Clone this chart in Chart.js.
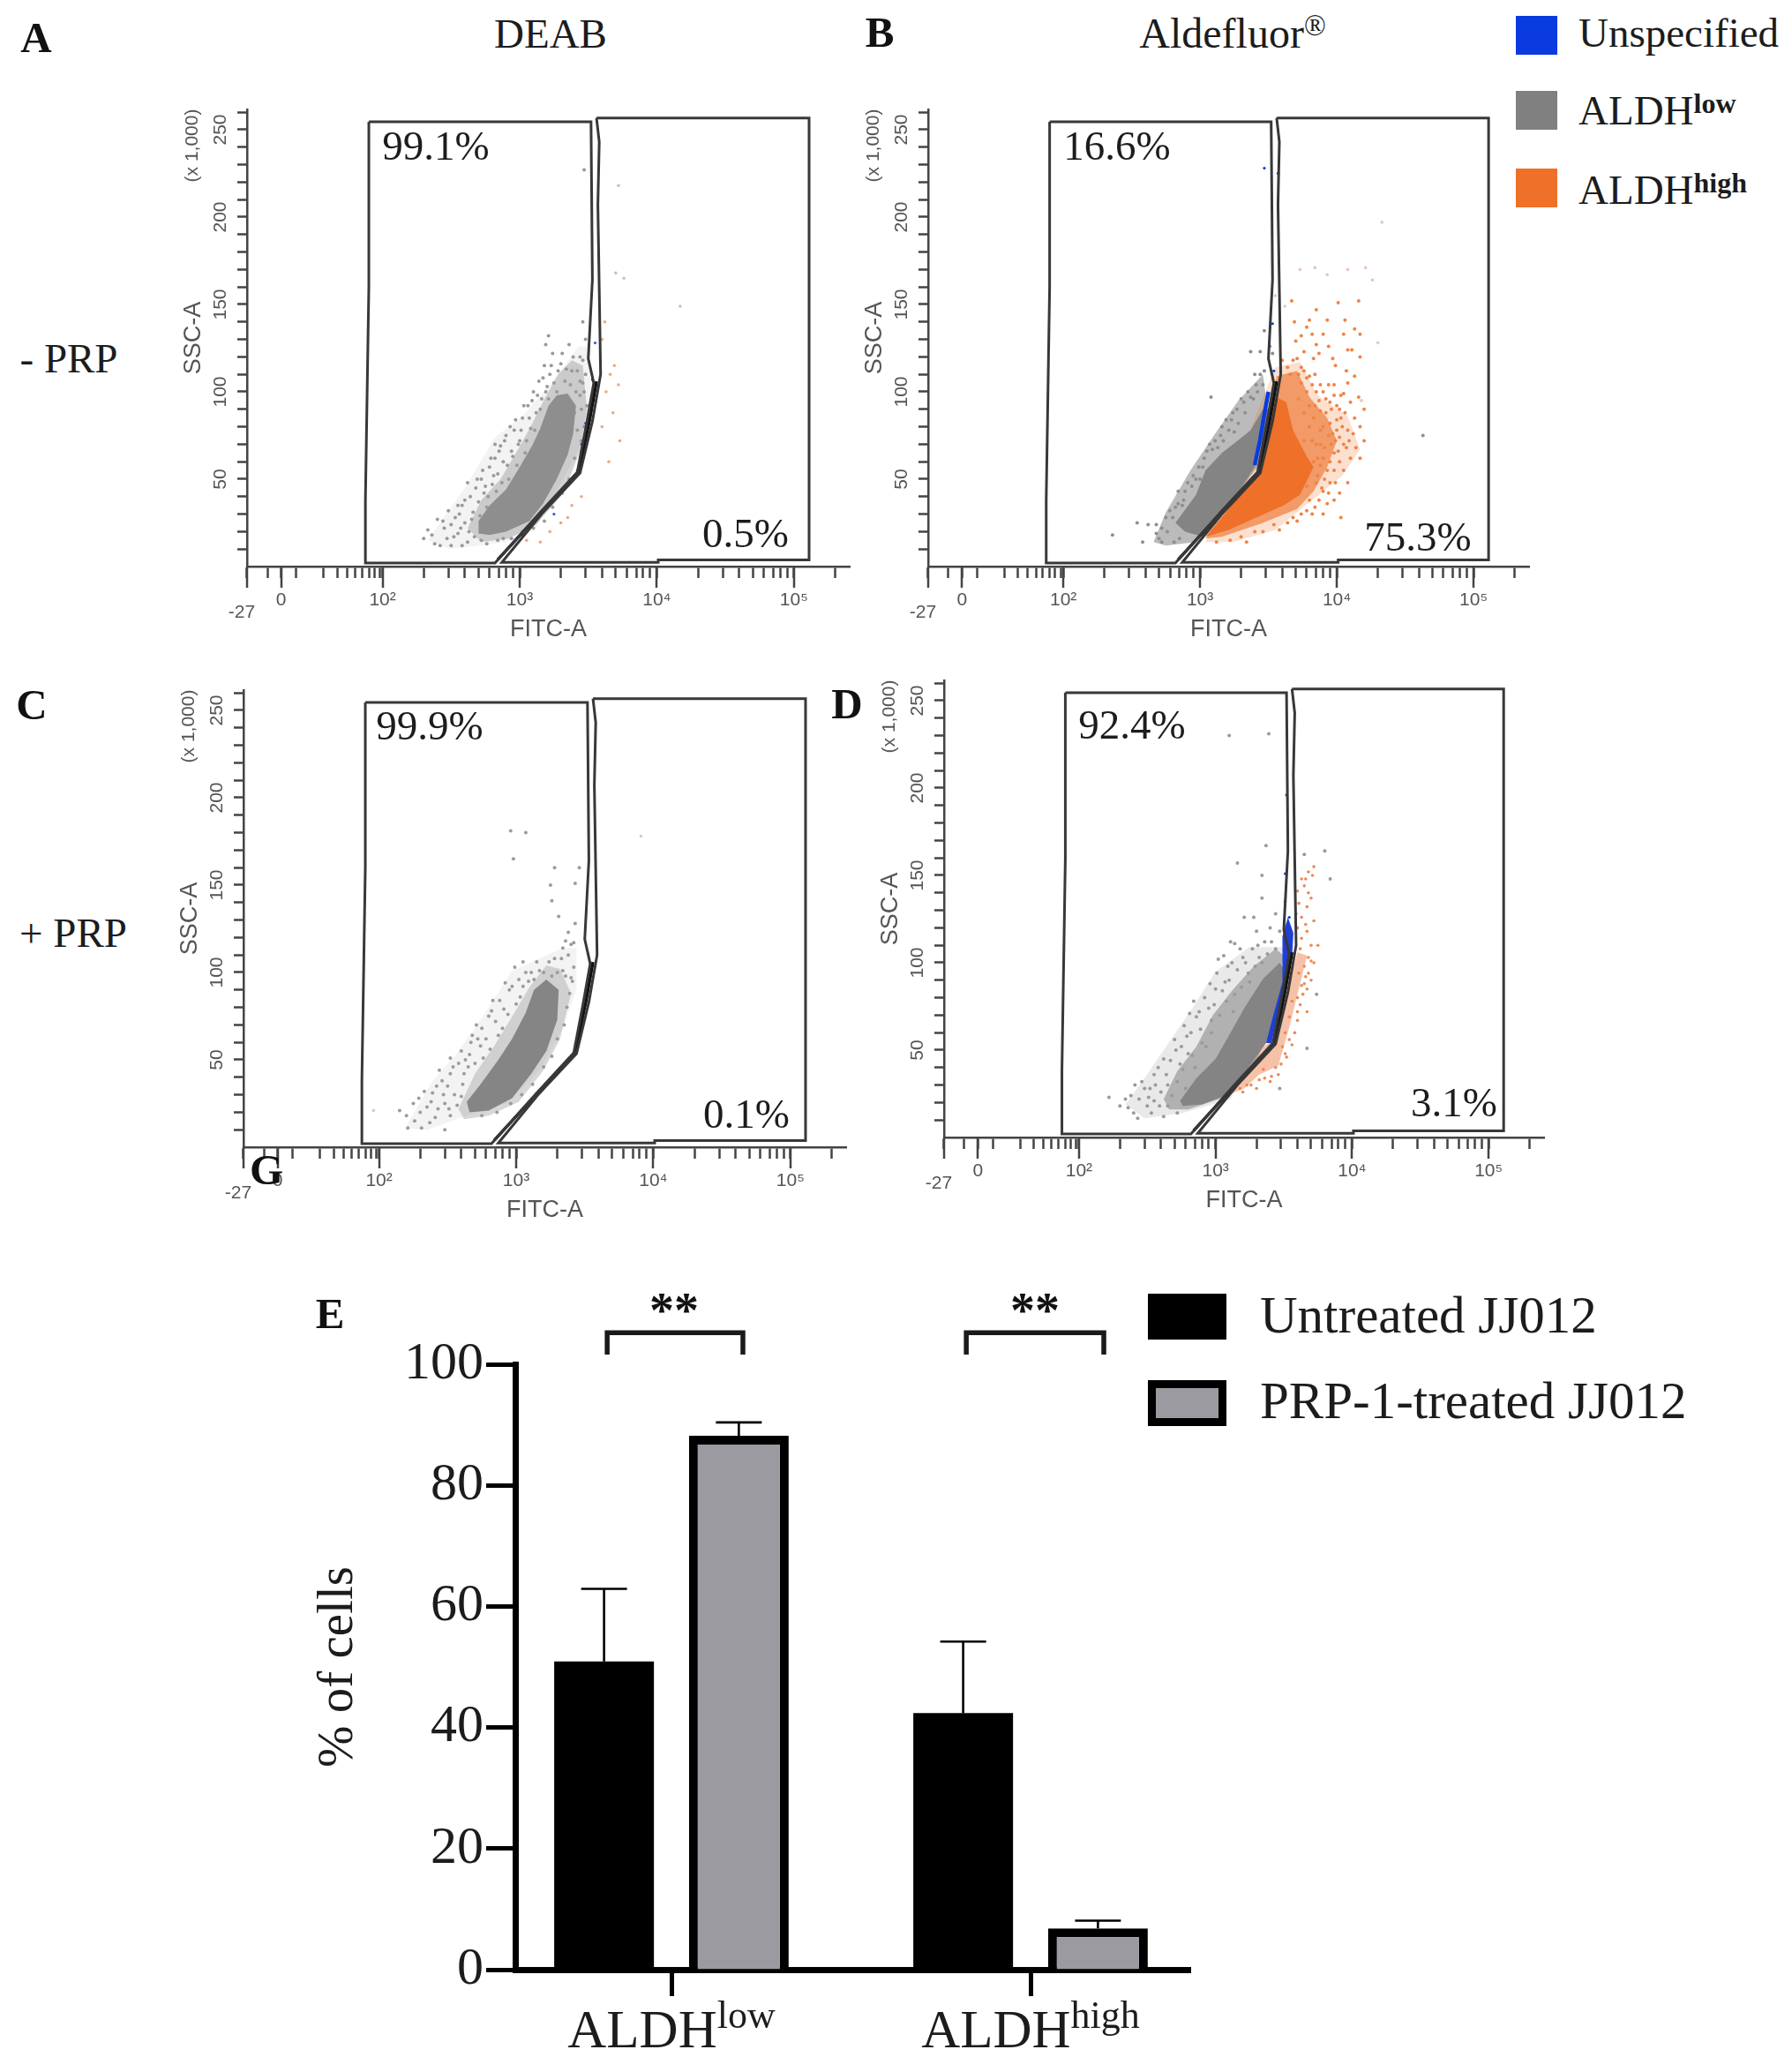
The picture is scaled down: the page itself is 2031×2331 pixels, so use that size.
<!DOCTYPE html>
<html><head><meta charset="utf-8">
<style>
html,body{margin:0;padding:0;background:#fff}
#page{position:relative;width:2031px;height:2331px;overflow:hidden;background:#fff}
canvas{position:absolute;display:block}
.t{position:absolute;white-space:nowrap;transform:translate(-50%,-50%);font-family:"Liberation Serif",serif;color:#1c1c1c;line-height:1;z-index:5}
.t.b{font-weight:700;color:#111}
.t sup{font-size:.68em;vertical-align:baseline;position:relative;top:-.42em;line-height:0}
.box{position:absolute;z-index:5;box-sizing:border-box}
</style>
<script src="https://cdn.jsdelivr.net/npm/chart.js@4"></script>
</head><body><div id="page"></div>
<script>
/* ---------- shared flow-cytometry axes: FITC in decade position (2 = 10^2), SSC in thousands ---------- */
const fitcTicks=[1.01,1.16,1.26,1.37,1.57,1.67,1.74,1.80,1.85,1.90,1.94,1.98,2,2.30,2.48,2.60,2.70,2.78,2.85,2.90,2.95,3,3.30,3.48,3.60,3.70,3.78,3.85,3.90,3.95,4,4.30,4.48,4.60,4.70,4.78,4.85,4.90,4.95,5,5.30];
const fitcLongTicks=[1.01,1.26,2,3,4,5];
const fitcLabels={1.26:'0',2:'10²',3:'10³',4:'10⁴',5:'10⁵'};
const sscTicks=[10,20,30,40,50,60,70,80,90,100,110,120,130,140,150,160,170,180,190,200,210,220,230,240,250,260];
const sscLabels=[50,100,150,200,250];

/* gates shared by the four plots */
const gateLow=[[1.90,254.5],[3.52,254.5],[3.53,164],[3.50,119],[3.54,105],[3.49,83],[3.42,54],[3.15,31],[2.82,2],[1.875,2],[1.875,38],[1.90,160],[1.90,254.5]];
const gateHigh=[[3.56,256.7],[5.11,256.7],[5.11,3.8],[4.01,3.8],[4.01,2.4],[2.87,2.4],[3.16,30],[3.44,53.5],[3.53,83],[3.59,110],[3.57,207],[3.58,243],[3.56,256.7]];
const gateSlant=[[2.84,4],[3.15,30.5],[3.43,54],[3.51,84],[3.56,106]];

/* panel A */
const aCore=[[2.70,26],[2.78,35],[2.90,44],[3.00,57],[3.09,69],[3.15,79],[3.21,92],[3.27,98],[3.35,99],[3.41,92],[3.39,76],[3.35,64],[3.27,50],[3.17,36],[3.07,26],[2.90,20],[2.78,18],[2.70,19]];
const aMid=[[2.62,22],[2.72,38],[2.86,50],[2.98,66],[3.08,80],[3.18,96],[3.28,110],[3.38,118],[3.46,115],[3.49,90],[3.44,66],[3.32,42],[3.12,24],[2.92,16],[2.72,14]];
const aHalo=[[2.33,15],[2.60,45],[2.82,74],[3.02,86],[3.23,105],[3.43,126],[3.50,126],[3.52,98],[3.43,67],[3.27,43],[3.11,21],[2.90,14],[2.49,10]];
const aGray=[[2.38,13],[2.33,21],[2.40,27],[2.45,22],[2.47,16],[2.50,12],[2.53,28],[2.55,19],[2.58,35],[2.60,25],[2.62,14],[2.64,40],[2.66,31],[2.68,45],[2.70,37],[2.72,50],[2.74,42],[2.76,34],[2.78,57],[2.80,47],[2.82,62],[2.84,53],[2.86,69],[2.88,60],[2.90,75],[2.92,50],[2.94,66],[2.96,78],[2.98,58],[3.00,72],[3.02,85],[3.04,65],[3.06,92],[3.08,79],[3.10,100],[3.12,88],[3.14,106],[3.16,96],[3.18,115],[3.20,103],[3.22,110],[3.24,122],[3.27,100],[3.30,116],[3.33,106],[3.36,127],[3.38,112],[3.41,100],[3.44,120],[3.46,105],[3.48,130],[3.45,90],[3.47,227],[3.19,127],[3.21,132],[3.46,140],[3.44,98],[3.40,88],[3.42,78],[2.55,35],[2.62,48],[2.48,32],[2.58,12],[2.72,15],[2.88,16],[3.02,18],[2.82,70],[3.28,92],
 [2.30,16],[2.36,18],[2.42,12],[2.44,26],[2.50,24],[2.52,17],[2.56,30],[2.57,22],[2.60,38],[2.63,20],[2.65,27],[2.67,17],[2.69,50],[2.71,29],[2.73,55],[2.75,46],[2.77,40],[2.79,62],[2.81,52],[2.83,43],[2.85,66],[2.87,48],[2.89,72],[2.91,58],[2.93,80],[2.95,63],[2.97,84],[2.99,70],[3.01,78],[3.03,92],[3.05,72],[3.07,85],[3.09,95],[3.11,78],[3.13,98],[3.15,90],[3.17,108],[3.19,100],[3.21,96],[3.23,115],[3.25,105],[3.28,112],[3.31,122],[3.34,113],[3.37,104],[3.39,120],[3.42,112],[3.44,106],[3.46,118],[3.48,110],[3.47,100],[3.49,92],[3.47,80],[3.45,72],[3.40,62],[3.36,50],[3.31,42],[3.24,34],[3.18,26],[3.10,22],[3.02,20],[2.94,16],[2.84,15],[2.76,13]];
const aOrange=[[3.72,104],[3.66,110],[3.69,115],[3.60,130],[3.62,140],[3.63,100],[3.60,80],[3.68,88],[3.73,72],[3.65,60],[3.45,40],[3.38,35],[3.30,25],[3.22,20],[3.15,14],[3.05,15],[3.35,28]];
const aPale=[[3.72,218],[4.17,149],[3.76,165],[3.70,168]];
const aBlue=[[3.55,128],[3.53,107],[3.54,95],[3.48,82],[3.45,70],[3.42,55],[3.38,50],[3.25,30]];

/* panel B */
const bGrayCore=[[2.82,25],[2.97,41],[3.04,55],[3.16,65],[3.29,73],[3.37,78],[3.46,90],[3.51,90],[3.44,68],[3.40,57],[3.26,40],[3.14,28],[3.02,17],[2.89,20]];
const bGrayHalo=[[2.66,14],[2.75,31],[2.93,55],[3.11,76],[3.28,95],[3.46,110],[3.50,86],[3.42,57],[3.11,24],[2.97,14],[2.75,12]];
const bOrangeCore=[[3.04,17],[3.21,33],[3.42,55],[3.48,73],[3.56,97],[3.63,94],[3.68,78],[3.78,63],[3.83,57],[3.73,41],[3.61,35],[3.41,28],[3.21,21]];
const bOrangeMid=[[3.56,109],[3.71,112],[3.80,97],[3.93,85],[4.00,72],[3.93,57],[3.83,43],[3.71,33],[3.46,25],[3.16,17],[3.04,16],[3.42,55],[3.50,80]];
const bOrangeHalo=[[3.04,14],[3.55,114],[3.73,117],[3.86,98],[4.08,86],[4.17,67],[4.04,52],[3.82,38],[3.55,21],[3.24,14]];
const bOrange=[[3.67,152],[3.85,147],[4.01,151],[4.16,152],[3.80,141],[3.93,141],[4.06,141],[4.13,136],[4.17,133],[4.05,133],[3.78,137],[3.69,140],[3.70,129],[3.85,127],[4.08,124],[4.17,120],[3.76,123],[3.87,122],[3.97,119],[3.71,119],[3.83,119],[3.99,115],[4.13,109],[3.76,112],[3.66,110],[4.05,99],[4.16,97],[3.80,109],[3.98,104],[3.85,100],[4.08,105],[4.13,85],[4.03,85],[4.20,90],[3.95,94],[4.10,94],[4.17,80],[4.20,72],[4.17,62],[4.00,78],[4.08,78],[4.05,70],[3.95,82],[3.88,89],[3.98,65],[4.10,62],[4.05,55],[3.98,55],[4.08,48],[3.90,43],[3.98,38],[3.93,36],[3.90,30],[4.03,28],[3.82,30],[3.71,26],[3.58,21],[3.34,14],[3.46,20],[3.80,38],[3.85,48],[3.78,46],[3.80,92],[3.83,85],[3.87,95],[3.90,100],[3.92,88],[3.94,75],[3.96,70],[3.88,78],[3.85,70],[3.83,60],[3.90,62],[3.93,55],[3.86,52],[3.89,45],[3.95,60],[3.99,72],[4.02,90],[4.02,60],[3.78,100],[3.74,105],[3.72,96],[3.76,88],[4.00,92],
 [3.60,118],[3.64,114],[3.68,118],[3.72,110],[3.74,114],[3.78,108],[3.82,104],[3.84,110],[3.88,104],[3.92,96],[3.94,104],[3.96,90],[3.98,98],[4.00,84],[4.02,74],[4.04,80],[4.06,88],[4.07,68],[4.09,72],[4.12,76],[4.14,68],[4.01,66],[3.97,76],[3.91,68],[3.88,58],[3.91,50],[3.95,48],[3.99,48],[4.02,42],[3.94,42],[3.87,38],[3.84,34],[3.78,32],[3.74,30],[3.68,28],[3.64,25],[3.54,24],[3.40,20],[3.30,17],[3.22,15],[3.12,14],[3.88,70],[3.84,92],[3.80,80],[3.76,72],[3.90,80],[3.82,72],[3.86,62],[4.03,98],[4.07,112],[4.11,124],[3.94,126],[3.90,133],[3.82,133],[3.74,132]];
const bPale=[[3.73,170],[3.84,171],[4.08,170],[4.21,171],[3.93,167],[4.26,164],[4.33,197],[4.30,128],[3.55,155],[3.62,149],[4.18,95]];
const bGray=[[3.08,97],[3.37,123],[3.44,123],[3.47,135],[3.53,122],[2.54,25],[2.62,24],[2.36,18],[2.58,14],[2.68,19],[2.72,22],[2.70,16],[2.75,28],[2.82,34],[2.87,35],[2.81,14],[2.89,43],[2.84,43],[2.97,50],[3.02,57],[3.09,67],[3.15,75],[3.23,84],[3.16,80],[3.25,77],[3.27,90],[3.32,94],[3.41,104],[3.46,104],[3.37,97],[4.63,75],
 [2.68,24],[2.72,14],[2.76,20],[2.78,32],[2.80,28],[2.84,36],[2.85,16],[2.88,38],[2.91,48],[2.94,46],[2.95,52],[2.99,57],[3.00,50],[3.03,62],[3.05,66],[3.07,70],[3.11,72],[3.13,68],[3.17,72],[3.19,84],[3.21,78],[3.24,88],[3.28,82],[3.30,96],[3.33,88],[3.35,100],[3.39,96],[3.42,100],[3.44,110],[3.47,112],[3.40,110]];
const bBlueTrace=[[3.40,58],[3.44,73],[3.47,87],[3.50,100]];
const bBlue=[[3.53,139],[3.57,225],[3.51,126],[3.54,112],[3.47,228]];

/* panel C */
const cCore=[[2.64,26],[2.74,36],[2.87,50],[2.97,62],[3.07,77],[3.13,90],[3.22,96],[3.31,90],[3.30,73],[3.22,55],[3.11,42],[2.97,28],[2.80,21],[2.66,20]];
const cMid=[[2.58,22],[2.70,42],[2.84,58],[2.98,76],[3.10,92],[3.22,104],[3.32,102],[3.40,88],[3.32,62],[3.20,44],[3.02,26],[2.80,18],[2.62,16]];
const cHalo=[[2.19,11],[2.39,38],[2.56,53],[2.76,75],[2.97,101],[3.34,114],[3.44,114],[3.44,90],[3.34,68],[3.17,44],[2.93,25],[2.64,18],[2.35,10]];
const cGray=[[2.15,21],[2.21,11],[2.31,11],[2.48,10],[2.25,25],[2.29,28],[2.39,31],[2.35,23],[2.41,17],[2.52,18],[2.46,38],[2.52,42],[2.58,48],[2.62,42],[2.66,53],[2.72,62],[2.76,51],[2.80,75],[2.83,84],[2.87,64],[2.91,79],[2.95,90],[2.99,103],[3.05,106],[3.09,95],[3.03,86],[3.17,101],[3.34,114],[3.38,110],[3.42,103],[3.34,101],[3.28,108],[3.40,97],[3.42,117],[2.52,51],[2.60,55],[2.68,64],[2.44,44],[2.60,29],[2.48,25],[2.96,181],[3.07,180],[2.98,165],[3.28,160],[3.46,160],[3.25,150],[3.43,151],[3.26,141],[3.31,132],[3.43,128],[3.38,123],
 [2.20,18],[2.26,15],[2.30,20],[2.33,32],[2.37,14],[2.38,26],[2.42,35],[2.43,22],[2.47,30],[2.50,35],[2.51,22],[2.54,46],[2.55,30],[2.57,24],[2.61,36],[2.63,50],[2.65,46],[2.67,60],[2.70,48],[2.71,70],[2.74,58],[2.75,68],[2.78,62],[2.81,56],[2.82,78],[2.85,72],[2.88,84],[2.90,68],[2.92,94],[2.94,76],[2.97,92],[3.00,82],[3.02,96],[3.05,92],[3.07,100],[3.11,100],[3.13,96],[3.15,106],[3.20,100],[3.24,106],[3.26,98],[3.30,100],[3.33,108],[3.36,98],[3.39,88],[3.41,95],[3.37,80],[3.35,70],[3.30,62],[3.26,52],[3.20,46],[3.12,36],[3.04,30],[2.96,25],[2.86,20],[2.75,18],[3.40,116],[3.36,118]];
const cPale=[[3.91,178],[1.96,21]];

/* panel D */
const dCore=[[2.74,21],[2.86,34],[3.00,45],[3.11,60],[3.21,74],[3.35,91],[3.47,100],[3.51,95],[3.46,76],[3.37,54],[3.25,41],[3.11,25],[2.90,19],[2.76,18]];
const dMid=[[2.62,22],[2.72,38],[2.86,52],[2.98,70],[3.12,84],[3.28,98],[3.44,108],[3.50,104],[3.44,70],[3.30,44],[3.10,24],[2.80,16],[2.66,16]];
const dHalo=[[2.34,19],[2.48,34],[2.69,58],[2.83,74],[3.00,95],[3.25,109],[3.49,109],[3.49,80],[3.11,22],[2.76,14],[2.48,11]];
const dBlueCore=[[3.37,54],[3.42,69],[3.49,89],[3.49,115],[3.53,126],[3.57,117],[3.56,102],[3.51,85],[3.44,65],[3.41,54]];
const dOrangeHalo=[[3.11,25],[3.35,52],[3.46,58],[3.54,89],[3.60,106],[3.67,104],[3.61,85],[3.54,63],[3.46,41],[3.32,36],[3.21,28]];
const dGray=[[2.22,23],[2.34,22],[2.36,17],[2.43,11],[2.48,28],[2.55,36],[2.55,21],[2.62,12],[2.72,14],[2.62,45],[2.71,50],[2.79,58],[2.81,71],[2.86,69],[2.90,54],[2.76,39],[2.95,74],[3.00,85],[3.02,102],[3.09,98],[3.11,112],[3.14,111],[3.20,103],[3.32,103],[3.28,126],[3.21,126],[3.34,137],[3.16,157],[3.34,150],[3.37,167],[3.10,230],[3.39,231],[3.47,28],[3.14,82],[3.25,89],[3.07,89],[2.97,67],[2.83,47],[2.65,30],[2.51,23],[2.41,30],[3.65,162],[3.80,164],[3.84,148],[3.74,82],[3.67,51],
 [2.30,18],[2.38,24],[2.40,14],[2.44,22],[2.46,32],[2.50,18],[2.52,28],[2.53,14],[2.56,30],[2.58,40],[2.59,18],[2.60,26],[2.64,36],[2.65,18],[2.67,44],[2.68,24],[2.70,56],[2.72,32],[2.74,42],[2.75,52],[2.77,64],[2.78,28],[2.80,48],[2.82,60],[2.84,78],[2.85,40],[2.88,72],[2.89,62],[2.92,80],[2.93,52],[2.96,88],[2.97,60],[2.99,76],[3.01,94],[3.03,70],[3.05,84],[3.06,104],[3.08,78],[3.10,90],[3.12,100],[3.13,72],[3.16,96],[3.18,108],[3.19,86],[3.22,100],[3.24,94],[3.27,108],[3.29,98],[3.31,110],[3.34,100],[3.36,112],[3.38,105],[3.41,112],[3.44,108],[3.47,118],[3.30,118],[3.40,120],[3.44,128]];
const dOrange=[[3.72,155],[3.68,152],[3.63,148],[3.65,144],[3.60,141],[3.61,134],[3.70,137],[3.67,132],[3.63,126],[3.72,124],[3.67,118],[3.75,110],[3.63,114],[3.68,103],[3.70,101],[3.65,98],[3.63,87],[3.60,80],[3.67,85],[3.67,72],[3.60,67],[3.56,53],[3.51,48],[3.46,36],[3.41,35],[3.35,39],[3.32,33],[3.23,30],[3.18,28],[3.49,52],[3.61,94],[3.56,78],[3.54,69],[3.51,60],
 [3.20,26],[3.26,30],[3.30,28],[3.36,34],[3.40,32],[3.44,40],[3.48,42],[3.52,46],[3.54,56],[3.58,60],[3.60,72],[3.62,76],[3.64,82],[3.65,88],[3.66,92],[3.68,94],[3.70,90],[3.72,100],[3.70,110],[3.66,122],[3.62,108],[3.60,120],[3.59,128],[3.68,140],[3.66,148],[3.71,150]];
const dBlue=[[3.51,151],[3.52,196],[3.51,135],[3.54,126]];

/* ---------- bar chart (panel E) ---------- */
const barCategories=[['ALDH','low'],['ALDH','high']];
const barPositions=[0,1];
const untreatedMeans=[50.9,42.4];
const untreatedErrorTops=[62.9,54.2];
const treatedMeans=[88.2,6.8];
const treatedErrorTops=[90.4,8.1];
const bracketLow=[[-0.179,101.6],[-0.179,105.2],[0.199,105.2],[0.199,101.6]];
const bracketHigh=[[0.821,101.6],[0.821,105.2],[1.204,105.2],[1.204,101.6]];
const percentTicks=[0,20,40,60,80,100];

/* ---------- colours ---------- */
const GRAY='#848484',ORANGE='#ee7029',BLUE='#0a3be0',INK='#383838',AXIS='#444444',BARGRAY='#9a9aa0';
const page=document.getElementById('page');
const xy=a=>a.map(([x,y])=>({x,y}));
const FITC_MIN=1.012,FITC_MAX=5.406,SSC_MAX=261.6;

const poly=(d,c,o)=>({type:'scatter',data:xy(d),showLine:true,fill:'shape',backgroundColor:c,borderColor:c,borderWidth:0,pointRadius:0,tension:0,order:o});
const dots=(d,c,o,r)=>({type:'scatter',data:xy(d),showLine:false,backgroundColor:c,pointBorderWidth:0,pointRadius:r||2,order:o});
const trace=(d,c,w,o)=>({type:'scatter',data:xy(d),showLine:true,fill:false,borderColor:c,borderWidth:w,pointRadius:0,tension:0,order:o});

function flowPanel(axisX,topY,chartW,layers){
  const LEFT=81,TOPPAD=30,RIGHTPAD=30,BOTTOM=92,H=518;
  const c=document.createElement('canvas');
  c.width=LEFT+chartW+RIGHTPAD;c.height=TOPPAD+H+BOTTOM;
  c.style.left=(axisX-LEFT)+'px';c.style.top=(topY-TOPPAD)+'px';
  c.style.width=c.width+'px';c.style.height=c.height+'px';
  page.appendChild(c);
  const extras={id:'flowExtras',afterDraw(ch){
    const g=ch.ctx,xs=ch.scales.x,ys=ch.scales.y;
    g.save();g.strokeStyle=AXIS;g.lineWidth=2.5;
    fitcLongTicks.forEach(v=>{const px=Math.round(xs.getPixelForValue(v));g.beginPath();g.moveTo(px,ys.bottom);g.lineTo(px,ys.bottom+24);g.stroke();});
    g.fillStyle='#555';g.font='21px "Liberation Sans"';g.textAlign='center';g.textBaseline='middle';
    g.fillText('-27',xs.left-6,ys.bottom+52);
    g.translate(xs.left-62,ys.top+41);g.rotate(-Math.PI/2);
    g.fillText('(x 1,000)',0,0);
    g.restore();
  }};
  return new Chart(c,{type:'scatter',
    data:{datasets:[trace(gateLow,INK,3,0),trace(gateHigh,INK,3,0),trace(gateSlant,'#111',3.5,0),...layers]},
    plugins:[extras],
    options:{responsive:false,animation:false,devicePixelRatio:1,
      layout:{autoPadding:false,padding:{left:0,top:TOPPAD,right:RIGHTPAD,bottom:0}},
      plugins:{legend:{display:false},tooltip:{enabled:false}},
      scales:{
        x:{type:'linear',min:FITC_MIN,max:FITC_MAX,
          afterBuildTicks(s){s.ticks=fitcTicks.map(v=>({value:v}));},
          afterFit(s){s.height=BOTTOM;},
          grid:{drawOnChartArea:false,tickLength:13,tickColor:AXIS,tickWidth:2.5},
          border:{color:AXIS,width:2.5},
          ticks:{autoSkip:false,maxRotation:0,minRotation:0,padding:13,color:'#555',font:{family:'Liberation Sans',size:21},callback:v=>fitcLabels[v]||''},
          title:{display:true,text:'FITC-A',color:'#555',font:{family:'Liberation Sans',size:27},padding:{top:4,bottom:4}}},
        y:{type:'linear',min:0,max:SSC_MAX,
          afterBuildTicks(s){s.ticks=sscTicks.map(v=>({value:v}));},
          afterFit(s){s.width=LEFT;},
          grid:{drawOnChartArea:false,tickLength:11,tickColor:AXIS,tickWidth:2.5},
          border:{color:AXIS,width:2.5},
          ticks:{autoSkip:false,minRotation:90,maxRotation:90,crossAlign:'center',padding:1,color:'#555',font:{family:'Liberation Sans',size:21},callback:v=>sscLabels.includes(v)?String(v):''},
          title:{display:true,text:'SSC-A',color:'#555',font:{family:'Liberation Sans',size:27},padding:{top:4,bottom:4}}}
      }}});
}

flowPanel(280,124,683,[
  dots(aBlue,'#3a5bd0',1,1.6),dots(aOrange,'#e9a98a',2,1.8),dots(aPale,'#c9c0c0',3,1.8),
  poly(aCore,'#8e8e8e',3),dots(aGray,'#9a9a9a',4),poly(aMid,'rgba(140,140,140,.38)',5),poly(aHalo,'rgba(140,140,140,.10)',6)]);
flowPanel(1052,124,681,[
  trace(bBlueTrace,BLUE,4.5,1),dots(bBlue,BLUE,1,1.6),
  poly(bOrangeCore,ORANGE,3),poly(bGrayCore,GRAY,3),
  dots(bOrange,'#ef8444',4),dots(bPale,'#e6c6bb',4,1.8),dots(bGray,'#8e8e8e',4),
  poly(bOrangeMid,'rgba(238,112,41,.62)',5),
  poly(bOrangeHalo,'rgba(238,112,41,.22)',6),poly(bGrayHalo,'rgba(132,132,132,.55)',6)]);
flowPanel(276,782,683,[
  dots(cPale,'#dcc8c8',2,1.8),poly(cCore,'#858585',3),dots(cGray,'#9c9c9c',4),poly(cMid,'rgba(140,140,140,.35)',5),poly(cHalo,'rgba(140,140,140,.10)',6)]);
flowPanel(1070,771,680,[
  poly(dBlueCore,'#1f3fd8',1),dots(dBlue,BLUE,1,1.6),
  poly(dCore,GRAY,3),dots(dOrange,'#ea8a56',4,1.8),dots(dGray,'#9a9a9a',4),
  poly(dMid,'rgba(132,132,132,.55)',5),poly(dHalo,'rgba(132,132,132,.18)',6),poly(dOrangeHalo,'rgba(235,120,60,.45)',6)]);

/* ---------- panel E ---------- */
(function(){
  const cx=300,cy=1420,W=1100,H=911,AX=584,AR=1349,AT=1546,AB=2232;
  const c=document.createElement('canvas');
  c.width=W;c.height=H;c.style.left=cx+'px';c.style.top=cy+'px';c.style.width=W+'px';c.style.height=H+'px';
  page.appendChild(c);
  const treated=barPositions.map((x,i)=>({x,y:treatedMeans[i]}));
  const untreated=barPositions.map((x,i)=>({x,y:untreatedMeans[i]}));
  const errs={id:'barExtras',afterDatasetsDraw(ch){
    const g=ch.ctx,ys=ch.scales.y;
    g.save();g.strokeStyle='#000';g.lineWidth=2.6;
    [[0,untreatedErrorTops],[1,treatedErrorTops]].forEach(([di,tops])=>{
      ch.getDatasetMeta(di).data.forEach((b,i)=>{
        const py=ys.getPixelForValue(tops[i]);
        g.beginPath();g.moveTo(b.x,b.y);g.lineTo(b.x,py);g.moveTo(b.x-26,py);g.lineTo(b.x+26,py);g.stroke();
      });
    });
    g.restore();
  },afterDraw(ch){
    const g=ch.ctx,xs=ch.scales.x,ys=ch.scales.y;
    g.save();g.fillStyle='#1c1c1c';g.textBaseline='alphabetic';g.textAlign='left';
    barCategories.forEach(([base,sup],i)=>{
      g.font='61px "Liberation Serif"';const w1=g.measureText(base).width;
      g.font='44px "Liberation Serif"';const w2=g.measureText(sup).width;
      const px=xs.getPixelForValue(barPositions[i]);
      const x0=px-(w1+w2)/2;
      g.font='61px "Liberation Serif"';g.fillText(base,x0,ys.bottom+88);
      g.font='44px "Liberation Serif"';g.fillText(sup,x0+w1,ys.bottom+66);
    });
    g.restore();
  }};
  const scaleX=407,vMin=(AX-761)/scaleX,vMax=(AR-761)/scaleX;
  new Chart(c,{type:'bar',
    data:{datasets:[
      {type:'bar',data:untreated,backgroundColor:'#000',borderWidth:0,categoryPercentage:.7506,barPercentage:.74,order:2},
      {type:'bar',data:treated,backgroundColor:BARGRAY,borderColor:'#000',borderWidth:10,categoryPercentage:.7506,barPercentage:.74,order:2},
      {type:'line',data:xy(bracketLow),borderColor:'#1a1a1a',borderWidth:5.5,pointRadius:0,tension:0,fill:false,clip:false,order:1},
      {type:'line',data:xy(bracketHigh),borderColor:'#1a1a1a',borderWidth:5.5,pointRadius:0,tension:0,fill:false,clip:false,order:1}
    ]},
    plugins:[errs],
    options:{responsive:false,animation:false,devicePixelRatio:1,
      layout:{autoPadding:false,padding:{left:0,top:AT-cy,right:cx+W-AR,bottom:0}},
      plugins:{legend:{display:false},tooltip:{enabled:false}},
      scales:{
        x:{type:'linear',min:vMin,max:vMax,offset:false,
          afterBuildTicks(s){s.ticks=barPositions.map(v=>({value:v}));},
          afterFit(s){s.height=cy+H-AB;},
          grid:{offset:false,drawOnChartArea:false,tickLength:30,tickColor:'#000',tickWidth:5},
          border:{color:'#000',width:7},
          ticks:{display:false}},
        y:{type:'linear',min:0,max:100,
          afterBuildTicks(s){s.ticks=percentTicks.map(v=>({value:v}));},
          afterFit(s){s.width=AX-cx;},
          grid:{drawOnChartArea:false,tickLength:33,tickColor:'#000',tickWidth:5},
          border:{color:'#000',width:7},
          ticks:{padding:3,color:'#1c1c1c',font:{family:'Liberation Serif',size:60}},
          title:{display:true,text:'% of cells',color:'#1c1c1c',font:{family:'Liberation Serif',size:57},padding:{top:50,bottom:0}}}
      }}});
})();

/* ---------- annotation text ---------- */
function T(html,x,y,size,bold){
  const s=document.createElement('div');s.className='t'+(bold?' b':'');s.innerHTML=html;
  s.style.left=x+'px';s.style.top=y+'px';s.style.fontSize=size+'px';page.appendChild(s);return s;
}
function B(x,y,w,h,bg,border){
  const d=document.createElement('div');d.className='box';
  d.style.cssText+=`left:${x}px;top:${y}px;width:${w}px;height:${h}px;background:${bg};`+(border?`border:${border};`:'');
  page.appendChild(d);
}
[['A',41,42],['B',997,36],['C',36,798],['D',960,797],['E',374,1488],['G',302,1325]].forEach(([l,x,y])=>T(l,x,y,49,true));
T('DEAB',624,38,47);
T('Aldefluor<sup>®</sup>',1397,38,48);
T('- PRP',78,406,47);
T('+ PRP',83,1057,47);
[['99.1%',494,165],['0.5%',845,604],['16.6%',1266,165],['75.3%',1607,608],['99.9%',487,822],['0.1%',846,1262],['92.4%',1283,821],['3.1%',1648,1249]].forEach(([l,x,y])=>T(l,x,y,47));
B(1718,18,47,44,BLUE);B(1718,103,47,44,'#808080');B(1718,191,47,44,ORANGE);
function L(html,x,y,size){const s=T(html,x,y,size);s.style.transform='translateY(-50%)';return s;}
L('Unspecified',1789,37,47);
L('ALDH<sup style="font-weight:700">low</sup>',1789,125,47);
L('ALDH<sup style="font-weight:700">high</sup>',1789,215,47);
B(1301,1466,89,52,'#000');
B(1301,1564,89,52,BARGRAY,'9px solid #000');
L('Untreated JJ012',1428,1490,59);
L('PRP-1-treated JJ012',1428,1587,59);
T('**',764,1485,56,true);T('**',1173,1485,56,true);
</script>
</body></html>
